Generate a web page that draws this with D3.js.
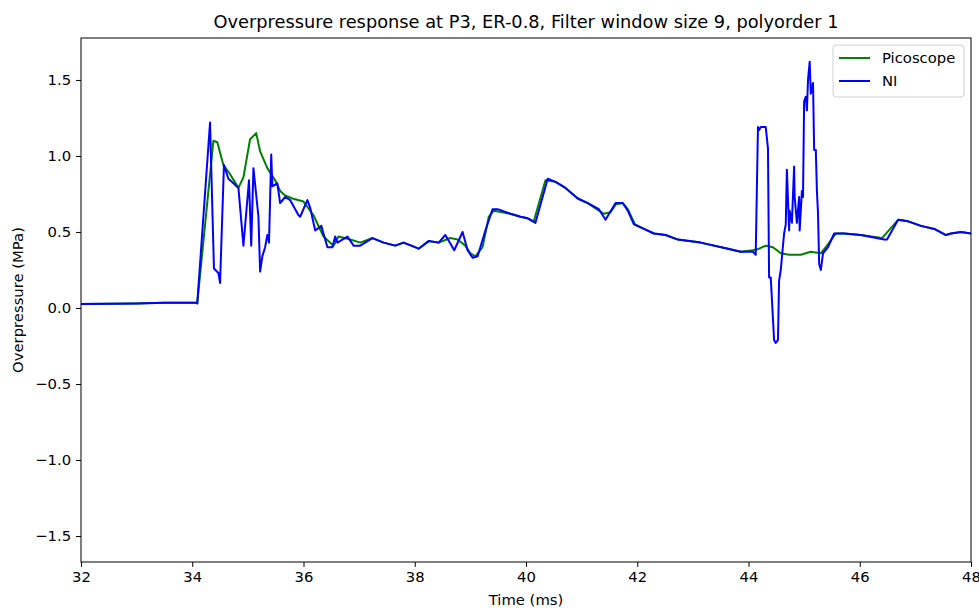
<!DOCTYPE html>
<html>
<head>
<meta charset="utf-8">
<script src="https://cdn.jsdelivr.net/npm/d3@7"></script>
<style>
  body { margin: 0; background: #fff; }
  text { font-family: "DejaVu Sans", sans-serif; fill: #000; }
</style>
</head>
<body>
<div id="chart"></div>
<script>
// time (ms) / overpressure (MPa)
const niTime = [32.00, 33.0, 33.5, 34.05, 34.09, 34.32, 34.39, 34.47, 34.50, 34.57, 34.65, 34.74, 34.83, 34.92,
  35.02, 35.06, 35.10, 35.19, 35.22, 35.26, 35.31, 35.35, 35.38, 35.42, 35.44, 35.53, 35.58, 35.67, 35.76,
  35.91, 35.94, 36.07, 36.12, 36.21, 36.32, 36.43, 36.52, 36.57, 36.61, 36.79, 36.90, 37.02, 37.24, 37.44,
  37.65, 37.80, 38.07, 38.25, 38.43, 38.55, 38.71, 38.86, 38.95, 39.04, 39.13, 39.27, 39.40, 39.49, 39.72,
  39.90, 40.03, 40.17, 40.39, 40.53, 40.71, 40.93, 41.11, 41.31, 41.43, 41.61, 41.74, 41.83, 41.94, 42.12,
  42.30, 42.51, 42.73, 43.14, 43.63, 43.86, 44.08, 44.13, 44.17, 44.19, 44.22, 44.31, 44.35, 44.37, 44.40,
  44.46, 44.49, 44.53, 44.55, 44.58, 44.64, 44.67, 44.69, 44.73, 44.74, 44.78, 44.82, 44.83, 44.87, 44.91,
  44.92, 44.96, 44.98, 45.00, 45.03, 45.05, 45.07, 45.10, 45.12, 45.16, 45.18, 45.21, 45.23, 45.25, 45.27,
  45.30, 45.34, 45.43, 45.54, 45.72, 46.02, 46.44, 46.49, 46.69, 46.87, 47.10, 47.34, 47.55, 47.64, 47.82, 48.00];
const niValue = [0.026, 0.03, 0.035, 0.035, 0.03, 1.22, 0.26, 0.23, 0.165, 0.94, 0.85, 0.82, 0.79, 0.41,
  0.84, 0.41, 0.92, 0.60, 0.24, 0.34, 0.40, 0.48, 0.43, 1.01, 0.80, 0.82, 0.69, 0.73, 0.71,
  0.61, 0.60, 0.71, 0.66, 0.51, 0.54, 0.40, 0.40, 0.47, 0.43, 0.47, 0.41, 0.41, 0.46, 0.43,
  0.41, 0.43, 0.39, 0.44, 0.43, 0.48, 0.38, 0.50, 0.38, 0.33, 0.34, 0.51, 0.65, 0.65, 0.62,
  0.60, 0.59, 0.56, 0.85, 0.83, 0.79, 0.72, 0.69, 0.65, 0.58, 0.69, 0.69, 0.64, 0.55, 0.52,
  0.49, 0.48, 0.45, 0.43, 0.39, 0.37, 0.37, 0.35, 1.19, 1.17, 1.19, 1.19, 1.05, 0.20, 0.20,
  -0.21, -0.23, -0.21, 0.18, 0.25, 0.49, 0.55, 0.91, 0.51, 0.64, 0.56, 0.93, 0.73, 0.56, 0.73,
  0.51, 0.77, 0.73, 1.36, 1.39, 1.30, 1.50, 1.62, 1.41, 1.48, 1.04, 1.04, 0.77, 0.62, 0.29,
  0.25, 0.36, 0.40, 0.49, 0.49, 0.48, 0.45, 0.45, 0.58, 0.57, 0.54, 0.52, 0.48, 0.49, 0.50, 0.49];

const picoTime = [32.00, 33.0, 33.5, 34.05, 34.09, 34.38, 34.45, 34.56, 34.68, 34.83, 34.92, 35.04, 35.15,
  35.22, 35.35, 35.49, 35.58, 35.67, 35.80, 36.00, 36.18, 36.36, 36.54, 36.63, 36.84, 37.02, 37.24, 37.44,
  37.65, 37.80, 38.07, 38.25, 38.43, 38.64, 38.77, 38.91, 39.00, 39.09, 39.22, 39.33, 39.42, 39.72, 39.90,
  40.03, 40.14, 40.35, 40.53, 40.71, 40.93, 41.11, 41.31, 41.40, 41.52, 41.61, 41.74, 41.83, 41.96, 42.12,
  42.30, 42.51, 42.73, 43.14, 43.63, 43.86, 44.08, 44.19, 44.31, 44.44, 44.58, 44.73, 44.94, 45.12, 45.30,
  45.39, 45.57, 45.72, 46.02, 46.40, 46.69, 46.87, 47.10, 47.34, 47.55, 47.64, 47.82, 48.00];
const picoValue = [0.026, 0.03, 0.035, 0.035, 0.03, 1.10, 1.09, 0.94, 0.88, 0.79, 0.86, 1.11, 1.15,
  1.03, 0.92, 0.84, 0.77, 0.74, 0.72, 0.70, 0.61, 0.47, 0.41, 0.47, 0.45, 0.43, 0.46, 0.43,
  0.41, 0.43, 0.39, 0.44, 0.43, 0.46, 0.45, 0.41, 0.36, 0.34, 0.40, 0.60, 0.64, 0.62, 0.60,
  0.59, 0.57, 0.84, 0.83, 0.79, 0.72, 0.69, 0.64, 0.62, 0.63, 0.68, 0.69, 0.65, 0.55, 0.52,
  0.49, 0.48, 0.45, 0.43, 0.39, 0.37, 0.38, 0.39, 0.41, 0.40, 0.36, 0.35, 0.35, 0.37, 0.36,
  0.40, 0.49, 0.49, 0.48, 0.46, 0.58, 0.57, 0.54, 0.52, 0.48, 0.49, 0.50, 0.49];

const xTicks = [32, 34, 36, 38, 40, 42, 44, 46, 48];
const yTicks = [-1.5, -1.0, -0.5, 0.0, 0.5, 1.0, 1.5];

const width = 979, height = 608;
const margin = {top: 38, right: 8, bottom: 46, left: 81};
const fs = 14.8;

const svg = d3.select("#chart").append("svg")
    .attr("width", width)
    .attr("height", height);

const x = d3.scaleLinear().domain([32, 48]).range([margin.left, width - margin.right]);
const y = d3.scaleLinear().domain([-1.671, 1.776]).range([height - margin.bottom, margin.top]);

const minus = s => s.replace("-", "\u2212");

svg.append("g")
    .attr("transform", `translate(0,${height - margin.bottom})`)
    .call(d3.axisBottom(x).tickValues(xTicks).tickFormat(d3.format("d")).tickSizeOuter(0).tickSize(4.9).tickPadding(5))
    .call(g => g.selectAll("text").attr("font-size", fs).attr("font-family", "DejaVu Sans"))
    .call(g => g.select(".domain").remove());

svg.append("g")
    .attr("transform", `translate(${margin.left},0)`)
    .call(d3.axisLeft(y).tickValues(yTicks).tickFormat(d => minus(d3.format(".1f")(d))).tickSizeOuter(0).tickSize(4.9).tickPadding(5))
    .call(g => g.selectAll("text").attr("font-size", fs).attr("font-family", "DejaVu Sans"))
    .call(g => g.select(".domain").remove());

const clipId = "plot-clip";
svg.append("clipPath").attr("id", clipId).append("rect")
    .attr("x", margin.left).attr("y", margin.top)
    .attr("width", width - margin.left - margin.right)
    .attr("height", height - margin.top - margin.bottom);

const line = d3.line().x(d => x(d[0])).y(d => y(d[1]));

const plot = svg.append("g").attr("clip-path", `url(#${clipId})`);

plot.append("path")
    .datum(d3.zip(picoTime, picoValue))
    .attr("fill", "none")
    .attr("stroke", "green")
    .attr("stroke-width", 2)
    .attr("stroke-linejoin", "round")
    .attr("d", line);

plot.append("path")
    .datum(d3.zip(niTime, niValue))
    .attr("fill", "none")
    .attr("stroke", "blue")
    .attr("stroke-width", 2)
    .attr("stroke-linejoin", "round")
    .attr("d", line);

// frame
svg.append("rect")
    .attr("x", margin.left).attr("y", margin.top)
    .attr("width", width - margin.left - margin.right)
    .attr("height", height - margin.top - margin.bottom)
    .attr("fill", "none")
    .attr("stroke", "#000")
    .attr("stroke-width", 1);

svg.append("text")
    .attr("x", (margin.left + width - margin.right) / 2)
    .attr("y", 28)
    .attr("text-anchor", "middle")
    .attr("font-size", 17.8)
    .text("Overpressure response at P3, ER-0.8, Filter window size 9, polyorder 1");

svg.append("text")
    .attr("x", (margin.left + width - margin.right) / 2)
    .attr("y", 605)
    .attr("text-anchor", "middle")
    .attr("font-size", fs)
    .text("Time (ms)");

svg.append("text")
    .attr("transform", `translate(23,${(margin.top + height - margin.bottom) / 2}) rotate(-90)`)
    .attr("text-anchor", "middle")
    .attr("font-size", fs)
    .text("Overpressure (MPa)");

// legend
const legendNames = ["Picoscope", "NI"];
const legendColors = ["green", "blue"];
const legend = svg.append("g").attr("transform", "translate(833,45)");
legend.append("rect")
    .attr("width", 131).attr("height", 52)
    .attr("rx", 3)
    .attr("fill", "#fff").attr("fill-opacity", 0.8)
    .attr("stroke", "#d0d0d0");
legend.selectAll(".item")
    .data(legendNames)
    .join("g")
    .attr("transform", (d, i) => `translate(0,${13 + i * 23})`)
    .each(function (d, i) {
        const g = d3.select(this);
        g.append("line")
            .attr("x1", 6).attr("x2", 37)
            .attr("stroke", legendColors[i]).attr("stroke-width", 2);
        g.append("text")
            .attr("x", 49).attr("dy", "0.35em")
            .attr("font-size", fs)
            .text(d);
    });
</script>
</body>
</html>
